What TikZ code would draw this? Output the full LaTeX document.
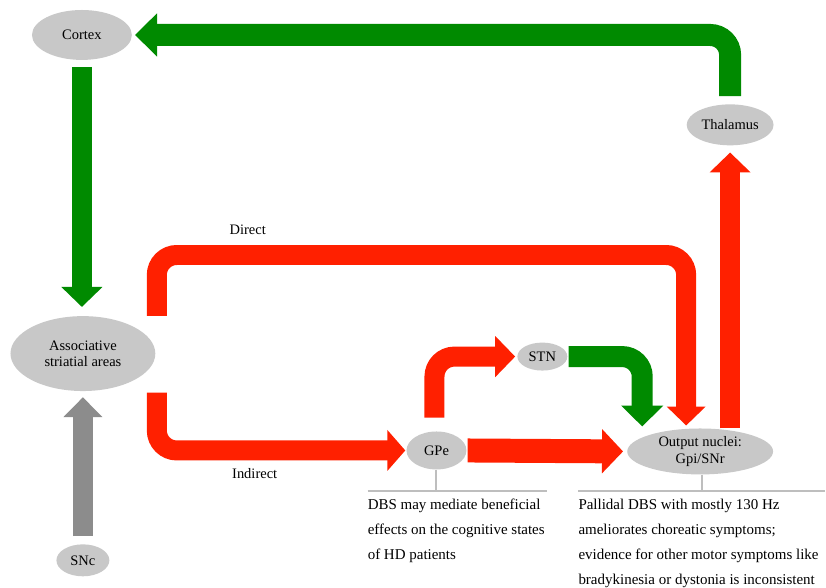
\documentclass[tikz,border=0pt]{standalone}
\usepackage{fontspec}
\setmainfont{Liberation Serif}
\usetikzlibrary{arrows.meta,calc,shapes.geometric}
\definecolor{grn}{RGB}{0,138,0}
\definecolor{rd}{RGB}{255,32,0}
\definecolor{gar}{RGB}{140,140,140}
\definecolor{ndfill}{RGB}{200,200,200}
\definecolor{lnc}{RGB}{190,190,190}
\tikzset{
  nd/.style={ellipse, fill=ndfill, inner sep=0pt, align=center, font=\fontsize{14.5}{16.5}\selectfont},
  fat/.style={line width=#1, rounded corners=20pt},
  tip/.style 2 args={-{Triangle[width=#1,length=#2]}},
  lbl/.style={font=\fontsize{14.5}{16}\selectfont},
  note/.style={anchor=north west, align=left, inner sep=0pt, font=\fontsize{15}{25}\selectfont},
  callout/.style={draw=lnc, line width=2pt}
}
\begin{document}
\begin{tikzpicture}[x=1pt,y=-1pt]
\fill[white] (0,0) rectangle (826,588);
% nodes
\node[nd, minimum width=100pt, minimum height=50pt] (cortex) at (82,35) {Cortex};
\node[nd, minimum width=87pt, minimum height=41pt] (thal) at (731,125) {Thalamus};
\node[nd, minimum width=145pt, minimum height=75pt] (assoc) at (83,354) {Associative\\striatial areas};
\node[nd, minimum width=53pt, minimum height=32pt] (snc) at (83,561) {SNc};
\node[nd, minimum width=60pt, minimum height=38pt] (gpe) at (437,451) {GPe};
\node[nd, minimum width=50pt, minimum height=28pt] (stn) at (543,357) {STN};
\node[nd, minimum width=146pt, minimum height=46pt] (out) at (701,452) {Output nuclei:\\Gpi/SNr};
% coordinates
\coordinate (dirstart) at ([xshift=74pt]assoc.north);
\coordinate (dirend) at (687,426);
\coordinate (indstart) at (157,393);
\coordinate (stnend) at (643,427);
\coordinate (gpestart) at (435,418);
% arrows
\draw[grn, fat=20pt, tip={40pt}{20pt}, shorten <=7pt, shorten >=9pt] (cortex.south) -- (cortex.south |- assoc.north);
\draw[grn, fat=22pt, tip={42pt}{22pt}] ([yshift=8pt]thal.north) |- ([xshift=3pt]cortex.east);
\draw[rd, fat=20pt, tip={40pt}{20pt}] (thal |- out.north) -- ([yshift=-7pt]thal.south);
\draw[rd, fat=20pt, tip={38pt}{19pt}] (dirstart) -- ++(0,-61) -| (dirend);
\draw[rd, fat=20pt, tip={40pt}{18pt}] (indstart) |- ([xshift=-1pt]gpe.west);
\draw[rd, fat=24pt, tip={43pt}{21pt}, shorten <=1pt, shorten >=4pt] (gpe.east) -- (out.west);
\draw[rd, fat=20pt, tip={40pt}{20pt}] (gpestart) |- ([xshift=-2pt]stn.west);
\draw[grn, fat=21pt, tip={41pt}{21pt}] ([xshift=1pt]stn.east) -| (stnend);
\draw[gar, fat=20pt, tip={38pt}{20pt}, shorten <=8pt, shorten >=6pt] (snc.north) -- (assoc.south);
% labels
\node[lbl] (direct) at (248,230) {Direct};
\node[lbl] (indirect) at (255,474) {Indirect};
% callouts
\coordinate (gc) at (437,492);
\draw[callout] (gpe.south) -- (gc);
\draw[callout] (368,492) -- (548,492);
\coordinate (oc) at (703,492);
\draw[callout] (out.south -| oc) -- (oc);
\draw[callout] (579,492) -- (826,492);
\node[note] (gnote) at (368,499.5) {DBS may mediate beneficial\\effects on the cognitive states\\of HD patients};
\node[note] (onote) at (579,499.5) {Pallidal DBS with mostly 130 Hz\\ameliorates choreatic symptoms;\\evidence for other motor symptoms like\\bradykinesia or dystonia is inconsistent};
\end{tikzpicture}
\end{document}
